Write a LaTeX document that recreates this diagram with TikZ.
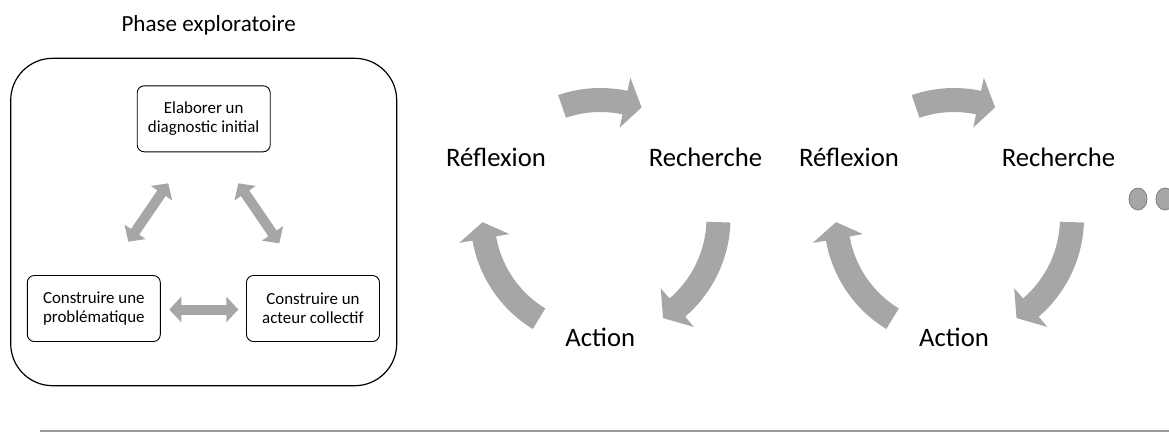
\documentclass[tikz,border=0pt]{standalone}
\usepackage{fontspec}
\setmainfont{Carlito}
\usetikzlibrary{arrows.meta,calc}
\definecolor{arrowgray}{HTML}{A6A6A6}
\definecolor{dotborder}{HTML}{7F7F7F}
\definecolor{rulegray}{HTML}{9A9A9A}
% circular arrow: center, start angle, head-base angle, tip angle
\newcommand\cycarr[4]{%
  \fill[arrowgray] ($(#1)+(#2:130pt)$) arc[start angle=#2,end angle=#3,radius=130pt]
    -- ($(#1)+(#3:143.5pt)$) -- ($(#1)+(#4:118pt)$) -- ($(#1)+(#3:92.5pt)$)
    -- ($(#1)+(#3:106pt)$) arc[start angle=#3,end angle=#2,radius=106pt] -- cycle;}
\begin{document}
\begin{tikzpicture}[x=1pt,y=1pt,
  box/.style={draw, rounded corners=7pt, minimum width=133pt, minimum height=66pt,
    align=center, font=\fontsize{16.9}{19}\selectfont, line width=0.9pt, inner sep=2pt},
  lbl/.style={font=\fontsize{26.67}{32}\selectfont, anchor=base, inner sep=0pt},
  dbl/.style={arrowgray, line width=10pt,
    {Triangle[width=25pt,length=12pt]}-{Triangle[width=25pt,length=12pt]}}]
\useasboundingbox (0,0) rectangle (1169,-432);
\clip (0,0) rectangle (1169,-432);
\fill[white] (0,0) rectangle (1169,-432);

% ---- left panel
\node[font=\fontsize{23.1}{28}\selectfont, anchor=base, inner sep=0pt] (title) at (208.7,-31) {Phase exploratoire};
\node[draw, rounded corners=42pt, minimum width=386pt, minimum height=327.4pt, line width=1.2pt] (frame) at (203.7,-222) {};
\node[box] (diag) at (203.7,-118.8) {Elaborer un\\diagnostic initial};
\node[box] (prob) at (93.8,-308.5) {Construire une\\problématique};
\node[box] (acteur) at (313,-308.5) {Construire un\\acteur collectif};

\coordinate (d1a) at (128.3,-241.7);
\coordinate (d1b) at (168.3,-183.3);
\coordinate (d2a) at (238.3,-183.3);
\coordinate (d2b) at (279.3,-243.3);
\coordinate (d3a) at (169.3,-309.5);
\coordinate (d3b) at (238.3,-309.5);
\draw[dbl] (d1a) -- (d1b);
\draw[dbl] (d2a) -- (d2b);
\draw[dbl] (d3a) -- (d3b);

% ---- cycle 1
\coordinate (c1) at (600.5,-218);
\node[lbl] (refl1) at (496,-166) {Réflexion};
\node[lbl] (rech1) at (705.5,-166) {Recherche};
\node[lbl] (act1) at (600.3,-346.7) {Action};
\cycarr{c1}{109}{78}{69.6}
\cycarr{c1}{-2}{-49.4}{-58}
\cycarr{c1}{238.6}{190}{182}

% ---- cycle 2
\coordinate (c2) at (954,-218);
\node[lbl] (refl2) at (849,-166) {Réflexion};
\node[lbl] (rech2) at (1058.5,-166) {Recherche};
\node[lbl] (act2) at (954,-346.7) {Action};
\cycarr{c2}{109}{78}{69.6}
\cycarr{c2}{-2}{-49.4}{-58}
\cycarr{c2}{238.6}{190}{182}

% ---- continuation dots
\draw[dotborder, fill=arrowgray, line width=0.8pt] (1138,-199) ellipse [x radius=9pt, y radius=11pt];
\draw[dotborder, fill=arrowgray, line width=0.8pt] (1165,-199) ellipse [x radius=9pt, y radius=11pt];

% ---- bottom rule
\coordinate (r1) at (40,-430.5);
\coordinate (r2) at (1169,-430.5);
\draw[rulegray, line width=2pt] (r1) -- (r2);
\end{tikzpicture}
\end{document}
